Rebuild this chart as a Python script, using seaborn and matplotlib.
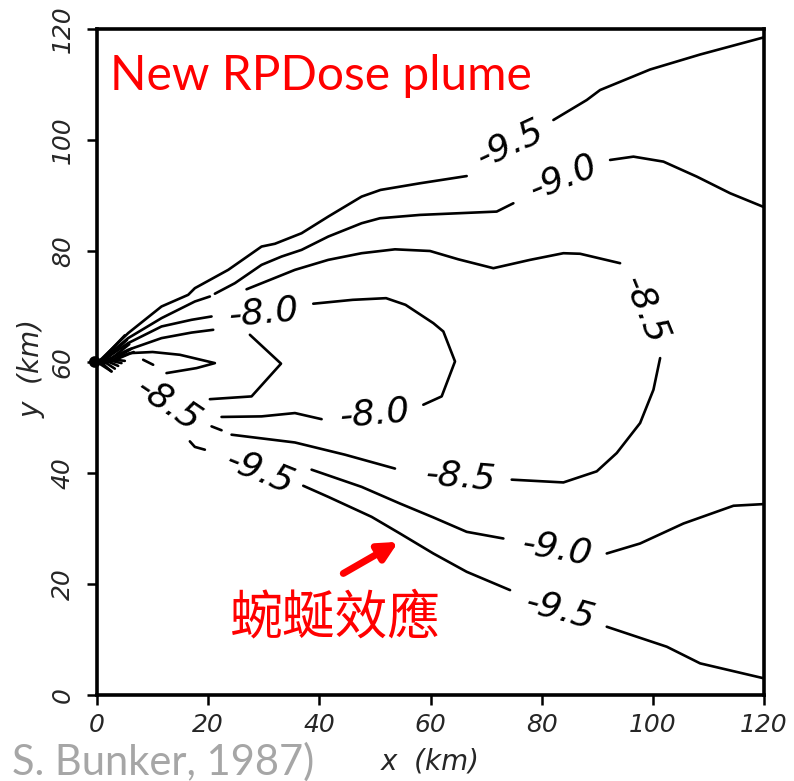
import matplotlib
matplotlib.use("Agg")
import matplotlib.pyplot as plt
import pandas as pd
import seaborn as sns

# ---- contour polylines of log10 dose (x, y in km) ----
# -9.5 upper branch (broken by its label)
m95_up_a_x = [0.3, 0.85, 5.6, 11.6, 16.4, 17.6, 23.6, 29.6, 32.0, 36.8, 41.6, 47.6, 51.0, 58.1, 66.5]
m95_up_a_y = [60.2, 60.6, 65.2, 70.0, 72.1, 73.3, 76.6, 80.8, 81.3, 83.2, 86.2, 89.8, 91.0, 92.2, 93.5]
m95_up_b_x = [82.1, 88.1, 90.5, 99.5, 108.5, 120.0]
m95_up_b_y = [103.6, 107.2, 109.0, 112.7, 115.4, 118.5]

# -9.0 upper branch
m90_up_a_x = [0.5, 5.6, 11.6, 17.6, 20.3]
m90_up_a_y = [60.1, 64.3, 67.9, 70.9, 71.8]
m90_up_b_x = [21.2, 24.8, 29.6, 33.2, 36.8, 41.6, 47.6, 50.9, 58.1, 65.0, 71.9, 74.9]
m90_up_b_y = [72.3, 74.2, 77.5, 79.0, 80.2, 82.6, 85.0, 85.9, 86.5, 86.8, 87.1, 88.6]
m90_up_c_x = [92.3, 96.5, 101.9, 107.9, 113.9, 120.0]
m90_up_c_y = [96.4, 97.0, 96.1, 93.4, 90.4, 87.9]

# tightly packed contours around the release point
fan1_x = [0.7, 5.6, 11.6, 17.0, 20.6]
fan1_y = [60.0, 63.4, 66.4, 67.6, 68.2]
fan2_x = [0.9, 5.6, 11.6, 17.0, 20.9]
fan2_y = [59.9, 62.2, 64.3, 65.3, 65.8]
tongue_x = [1.2, 5.9, 10.0, 14.9, 21.2, 17.9, 12.5]
tongue_y = [59.7, 61.6, 61.8, 61.3, 59.8, 58.9, 58.0]
tick_mark_x = [8.3, 10.1]
tick_mark_y = [60.4, 59.5]
edge_x = [0.0, 2.6]
edge_y = [60.0, 58.3]
ch1_x = [2.6, 0.5, 5.0]
ch1_y = [58.3, 60.1, 64.8]
ch2_x = [3.2, 1.2, 5.4]
ch2_y = [58.8, 60.1, 64.0]
ch3_x = [3.8, 1.9, 5.8]
ch3_y = [59.3, 60.1, 63.2]
ch4_x = [4.4, 2.6, 6.2]
ch4_y = [59.8, 60.2, 62.4]
ch5_x = [5.0, 3.3, 6.6]
ch5_y = [60.2, 60.4, 61.8]

# inner wedge near the source
wedge_x = [27.5, 33.1, 27.8, 20.3]
wedge_y = [64.9, 59.7, 53.8, 53.3]

# -8.0 contour
m80_a_x = [38.9, 46.0, 52.0, 55.5, 60.5, 62.3, 64.4, 62.0, 58.7]
m80_a_y = [70.5, 71.2, 71.5, 70.3, 67.0, 65.5, 60.1, 53.8, 52.3]
m80_b_x = [22.4, 29.6, 35.6, 40.4]
m80_b_y = [50.1, 50.2, 50.8, 49.7]

# -8.5 contour
m85_up_x = [26.9, 35.6, 41.6, 47.6, 53.6, 59.9, 65.0, 71.3, 77.9, 83.9, 86.9, 94.1]
m85_up_y = [73.1, 76.6, 78.4, 79.6, 80.3, 80.0, 78.5, 76.9, 78.4, 79.6, 79.5, 77.8]
m85_rt_x = [101.3, 100.1, 97.7, 93.5, 89.9, 83.9, 74.6]
m85_rt_y = [60.7, 55.0, 49.0, 43.6, 40.3, 38.3, 38.8]
m85_lo_x = [24.2, 35.6, 44.6, 53.6]
m85_lo_y = [46.9, 45.5, 43.3, 40.8]
dash_x = [20.6, 22.4]
dash_y = [48.4, 47.7]

# -9.0 lower branch
m90_lo_a_x = [38.6, 47.6, 54.5, 60.5, 66.5, 73.1]
m90_lo_a_y = [40.6, 37.5, 34.5, 32.0, 29.4, 28.2]
m90_lo_b_x = [91.7, 97.7, 105.5, 114.5, 120.0]
m90_lo_b_y = [25.5, 27.3, 30.9, 34.1, 34.4]

# -9.5 lower branch
m95_arc_x = [16.7, 17.6, 19.4]
m95_arc_y = [45.7, 44.7, 44.2]
m95_lo_a_x = [37.1, 41.6, 49.4, 54.5, 60.5, 66.5, 74.3]
m95_lo_a_y = [37.7, 35.7, 32.1, 29.1, 25.5, 22.2, 18.9]
m95_lo_b_x = [91.7, 102.5, 108.5, 120.0]
m95_lo_b_y = [12.3, 8.7, 5.7, 3.0]

source_x = [-0.4]
source_y = [60.0]

# contour label values
label_levels = ["-9.5", "-9.0", "-8.0", "-8.5", "-8.0", "-8.5", "-9.5", "-8.5", "-9.0", "-9.5"]

x_ticks = [0, 20, 40, 60, 80, 100, 120]
y_ticks = [0, 20, 40, 60, 80, 100, 120]

segments = {
    "m95_up_a": (m95_up_a_x, m95_up_a_y), "m95_up_b": (m95_up_b_x, m95_up_b_y),
    "m90_up_a": (m90_up_a_x, m90_up_a_y), "m90_up_b": (m90_up_b_x, m90_up_b_y),
    "m90_up_c": (m90_up_c_x, m90_up_c_y),
    "fan1": (fan1_x, fan1_y), "fan2": (fan2_x, fan2_y), "tongue": (tongue_x, tongue_y),
    "tick_mark": (tick_mark_x, tick_mark_y), "edge": (edge_x, edge_y),
    "ch1": (ch1_x, ch1_y), "ch2": (ch2_x, ch2_y), "ch3": (ch3_x, ch3_y),
    "ch4": (ch4_x, ch4_y), "ch5": (ch5_x, ch5_y),
    "wedge": (wedge_x, wedge_y),
    "m80_a": (m80_a_x, m80_a_y), "m80_b": (m80_b_x, m80_b_y),
    "m85_up": (m85_up_x, m85_up_y), "m85_rt": (m85_rt_x, m85_rt_y),
    "m85_lo": (m85_lo_x, m85_lo_y), "dash": (dash_x, dash_y),
    "m90_lo_a": (m90_lo_a_x, m90_lo_a_y), "m90_lo_b": (m90_lo_b_x, m90_lo_b_y),
    "m95_arc": (m95_arc_x, m95_arc_y),
    "m95_lo_a": (m95_lo_a_x, m95_lo_a_y), "m95_lo_b": (m95_lo_b_x, m95_lo_b_y),
}

rows = []
for name, (xs, ys) in segments.items():
    for i, (xv, yv) in enumerate(zip(xs, ys)):
        rows.append({"seg": name, "order": i, "x": xv, "y": yv})
df = pd.DataFrame(rows)

sns.set_style("ticks")
plt.rcParams["font.family"] = ["DejaVu Sans"]

fig = plt.figure(figsize=(7.94, 7.81), dpi=100)
ax = fig.add_axes([0.1222, 0.1101, 0.8401, 0.8528])

sns.lineplot(data=df, x="x", y="y", units="seg", estimator=None, sort=False,
             color="black", linewidth=1.9, legend=False, ax=ax)
sns.scatterplot(x=source_x, y=source_y, color="black", s=70, edgecolor="none",
                legend=False, ax=ax, zorder=5, clip_on=False)

# inline contour labels: (x, y, rotation)
label_places = [(74.3, 99.3, 25), (83.9, 93.4, 22), (30.0, 68.9, 5), (98.6, 69.4, -68),
                (49.9, 50.8, 5), (12.8, 52.4, -34), (29.3, 40.3, -22), (65.4, 39.3, -5),
                (82.8, 26.4, -10), (83.4, 15.3, -15)]
for text, (lx, ly, rot) in zip(label_levels, label_places):
    ax.text(lx, ly, text, fontsize=26, style="italic", rotation=rot,
            rotation_mode="anchor", ha="center", va="center", color="black")

ax.set_xlim(0, 120)
ax.set_ylim(0, 120)
ax.set_xticks(x_ticks)
ax.set_yticks(y_ticks)
ax.set_xticklabels([str(v) for v in x_ticks], fontsize=18, style="italic")
ax.set_yticklabels([str(v) for v in y_ticks], fontsize=18, style="italic",
                   rotation=90, va="center")
ax.tick_params(axis="both", direction="out", length=7, width=1.8, color="black")
ax.tick_params(axis="x", pad=6)
ax.tick_params(axis="y", pad=9)
for sp in ax.spines.values():
    sp.set_visible(True)
    sp.set_linewidth(2.6)
    sp.set_color("black")

ax.set_xlabel("x  (km)", fontsize=20, style="italic", va="center")
ax.xaxis.set_label_coords(0.5, -0.10)
ax.set_ylabel("y  (km)", fontsize=20, style="italic", va="center")
ax.yaxis.set_label_coords(-0.0975, 0.49)

# annotations
ax.text(0.0195, 0.908, "New RPDose plume", transform=ax.transAxes, color="red",
        fontsize=34.5, family=["Lato", "DejaVu Sans"], va="baseline", ha="left")
ax.text(42.8, 13.9, "蜿蜒效應", color="red", fontsize=38,
        family=["Noto Sans CJK TC", "DejaVu Sans"], ha="center", va="center")
ax.annotate("", xy=(54.2, 27.6), xytext=(44.3, 21.9),
            arrowprops=dict(arrowstyle="-|>", color="red", lw=5, mutation_scale=28,
                            shrinkA=0, shrinkB=0))
fig.text(12 / 794, 6 / 781, "S. Bunker, 1987)", color="#a6a6a6", fontsize=30,
         family=["Lato", "DejaVu Sans"], va="baseline", ha="left")

fig.savefig("out.png", dpi=100, facecolor="white")
